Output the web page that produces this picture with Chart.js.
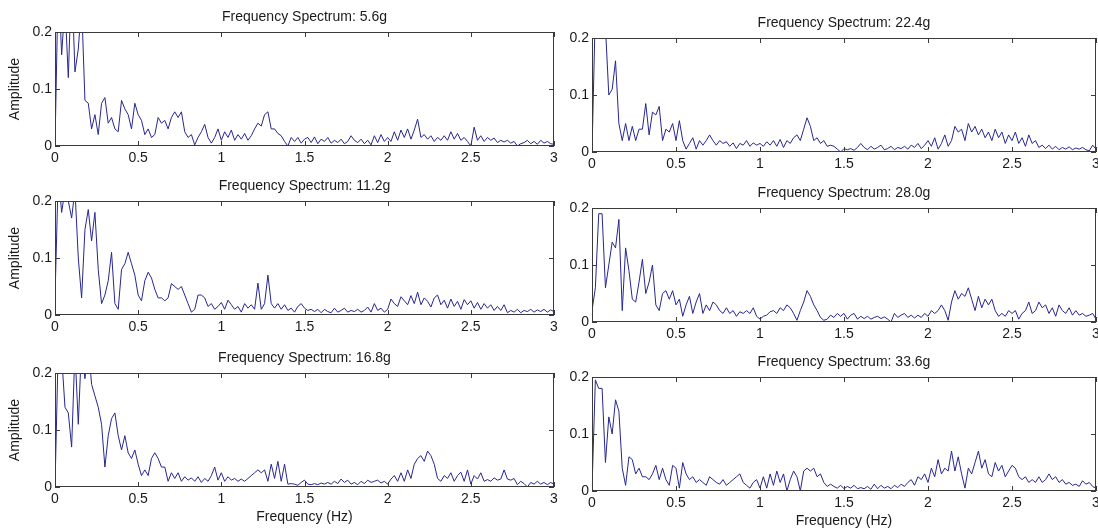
<!DOCTYPE html>
<html>
<head>
<meta charset="utf-8">
<script src="https://cdn.jsdelivr.net/npm/chart.js@4.4.0/dist/chart.umd.min.js"></script>
<style>
  html, body { margin: 0; padding: 0; background: #fff; overflow: hidden; width: 1098px; height: 529px; }
  canvas { position: absolute; }
</style>
</head>
<body>
<canvas id="c0"></canvas>
<canvas id="c1"></canvas>
<canvas id="c2"></canvas>
<canvas id="c3"></canvas>
<canvas id="c4"></canvas>
<canvas id="c5"></canvas>
<script>
// frequency bins (Hz), 0 to 3 in steps of 0.02
const freqs = Array.from({ length: 151 }, (_, i) => +(i * 0.02).toFixed(2));
const xTicks = [0, 0.5, 1, 1.5, 2, 2.5, 3];
const yTicks = [0, 0.1, 0.2];

// amplitudes, one value per bin
const spec5_6 = [
  0, 0.3, 0.16, 0.25, 0.12, 0.3, 0.13, 0.17, 0.25, 0.08,
  0.075, 0.03, 0.055, 0.02, 0.075, 0.085, 0.04, 0.05, 0.03, 0.025,
  0.08, 0.065, 0.055, 0.03, 0.075, 0.055, 0.045, 0.02, 0.03, 0.015,
  0.02, 0.05, 0.04, 0.045, 0.03, 0.05, 0.06, 0.05, 0.06, 0.025,
  0.015, 0.02, 0.002, 0.015, 0.025, 0.038, 0.015, 0.005, 0.015, 0.03,
  0.01, 0.025, 0.015, 0.028, 0.01, 0.02, 0.012, 0.022, 0.01, 0.018,
  0.03, 0.04, 0.035, 0.055, 0.06, 0.03, 0.03, 0.022, 0.018, 0.008,
  0, 0.015, 0.008, 0.015, 0.005, 0.012, 0.015, 0.006, 0.016, 0.004,
  0.012, 0.008, 0.015, 0.005, 0.01, 0.006, 0.012, 0.004, 0.008, 0.018,
  0.01, 0.006, 0.012, 0.004, 0.01, 0.002, 0.018, 0.006, 0.02, 0.008,
  0.015, 0.008, 0.025, 0.01, 0.028, 0.015, 0.03, 0.012, 0.028, 0.047,
  0.015, 0.02, 0.012, 0.018, 0.008, 0.015, 0.01, 0.018, 0.01, 0.025,
  0.012, 0.022, 0.01, 0.015, 0.008, 0, 0.033, 0.01, 0.018, 0.008,
  0.015, 0.01, 0.014, 0.006, 0.01, 0.007, 0.01, 0.005, 0.008, 0,
  0.004, 0.006, 0.01, 0.004, 0.008, 0.003, 0.01, 0.005, 0.008, 0.004,
  0.003
];
const spec11_2 = [
  0.03, 0.25, 0.18, 0.22, 0.2, 0.17, 0.22, 0.1, 0.03, 0.15,
  0.185, 0.13, 0.18, 0.08, 0.02, 0.035, 0.06, 0.11, 0.02, 0.01,
  0.08, 0.09, 0.11, 0.09, 0.07, 0.035, 0.025, 0.06, 0.075, 0.065,
  0.045, 0.03, 0.03, 0.025, 0.03, 0.055, 0.05, 0.045, 0.05, 0.035,
  0.02, 0.005, 0.01, 0.035, 0.035, 0.03, 0.015, 0.02, 0.01, 0.015,
  0.022, 0.01, 0.026, 0.018, 0.01, 0.015, 0.005, 0.02, 0.012, 0.018,
  0.01, 0.056, 0.01, 0.02, 0.07, 0.02, 0.012, 0.02, 0.01, 0.018,
  0.008, 0.012, 0.005, 0.015, 0.02, 0.012, 0.008, 0.01, 0.006, 0.01,
  0.004, 0.01, 0.006, 0.004, 0.012, 0.005, 0.008, 0.012, 0.005, 0.008,
  0.006, 0.01, 0.005, 0.008, 0.014, 0.005, 0.02, 0.008, 0.012, 0.005,
  0.01, 0.028, 0.02, 0.015, 0.032, 0.025, 0.018, 0.034, 0.02, 0.04,
  0.018, 0.03, 0.024, 0.014, 0.03, 0.035, 0.018, 0.026, 0.012, 0.028,
  0.015, 0.024, 0.01, 0.027, 0.018, 0.025, 0.012, 0.022, 0.01, 0.02,
  0.012, 0.018, 0.008, 0.015, 0.008, 0.018, 0.004, 0.008, 0.005, 0.01,
  0.004, 0.008, 0.006, 0.01, 0.005, 0.009, 0.006, 0.01, 0.005, 0.009,
  0.006
];
const spec16_8 = [
  0, 0.25, 0.23, 0.14, 0.13, 0.07, 0.24, 0.11, 0.25, 0.19,
  0.25, 0.18, 0.16, 0.14, 0.11, 0.035, 0.09, 0.12, 0.13, 0.09,
  0.065, 0.09, 0.06, 0.05, 0.065, 0.04, 0.02, 0.03, 0.02, 0.05,
  0.06, 0.05, 0.035, 0.035, 0.01, 0.025, 0.015, 0.025, 0.01, 0.018,
  0.012, 0.016, 0.01, 0.018, 0.008, 0.015, 0.01, 0.02, 0.035, 0.012,
  0.025, 0.01, 0.018, 0.012, 0.015, 0.01, 0.014, 0.01, 0.015, 0.02,
  0.025, 0.03, 0.025, 0.03, 0.01, 0.04, 0.015, 0.045, 0.01, 0.04,
  0.005, 0.006, 0.005, 0.003, 0.008, 0.012, 0.005, 0.004, 0.006, 0.004,
  0.007, 0.005, 0.008, 0.005, 0.01, 0.006, 0.014, 0.008, 0.012, 0.005,
  0.008, 0.004, 0.01, 0.006, 0.012, 0.008, 0.01, 0.012, 0.007, 0.01,
  0.005, 0.014, 0.02, 0.01, 0.025, 0.01, 0.03, 0.015, 0.04, 0.05,
  0.055, 0.045, 0.063, 0.055, 0.04, 0.015, 0.01, 0.02, 0.015, 0.025,
  0.01, 0.02, 0.026, 0.01, 0.03, 0.005, 0.02, 0.014, 0.025, 0.01,
  0.013, 0.01, 0.016, 0.012, 0.014, 0.03, 0.014, 0.012, 0.015, 0.004,
  0.01, 0.006, 0, 0.008, 0.005, 0.01, 0.005, 0.008, 0.004, 0.008,
  0.005
];
const spec22_4 = [
  0, 0.25, 0.24, 0.25, 0.22, 0.1, 0.11, 0.16, 0.05, 0.02,
  0.05, 0.02, 0.045, 0.02, 0.04, 0.04, 0.085, 0.03, 0.07, 0.065,
  0.08, 0.02, 0.04, 0.035, 0.05, 0.02, 0.055, 0.02, 0.005, 0.015,
  0.025, 0.005, 0.02, 0.012, 0.02, 0.03, 0.02, 0.012, 0.02, 0.015,
  0.018, 0.01, 0.016, 0.006, 0.015, 0.012, 0.02, 0.01, 0.016, 0.012,
  0.015, 0.01, 0.018, 0.012, 0.02, 0.01, 0.022, 0.008, 0.02, 0.015,
  0.025, 0.03, 0.02, 0.04, 0.06, 0.045, 0.02, 0.025, 0.015, 0.02,
  0.01, 0.012, 0.01, 0.005, 0, 0.006, 0.004, 0.006, 0.003, 0.008,
  0.015, 0.008, 0.004, 0.01, 0.005, 0.008, 0.012, 0.004, 0.006, 0.01,
  0.004, 0.008, 0.006, 0.01, 0.005, 0.012, 0.008, 0.015, 0.006, 0.012,
  0.02, 0.01, 0.025, 0.005, 0.015, 0.03, 0.01, 0.02, 0.045, 0.035,
  0.04, 0.02, 0.05, 0.035, 0.045, 0.03, 0.04, 0.025, 0.035, 0.02,
  0.04, 0.025, 0.035, 0.015, 0.03, 0.02, 0.035, 0.015, 0.025, 0.01,
  0.03, 0.015, 0.02, 0.008, 0.012, 0.006, 0.012, 0.005, 0.01, 0.004,
  0.008, 0.005, 0.009, 0.004, 0.007, 0.005, 0.008, 0.004, 0.002, 0.012,
  0.005
];
const spec28_0 = [
  0.02, 0.06, 0.19, 0.19, 0.06, 0.1, 0.14, 0.13, 0.18, 0.02,
  0.13, 0.09, 0.04, 0.035, 0.07, 0.11, 0.05, 0.07, 0.1, 0.03,
  0.02, 0.05, 0.055, 0.04, 0.055, 0.03, 0.04, 0.01, 0.03, 0.045,
  0.015, 0.035, 0.05, 0.015, 0.03, 0.02, 0.035, 0.03, 0.02, 0.015,
  0.025, 0.015, 0.02, 0.01, 0.018, 0.015, 0.02, 0.015, 0.025, 0.01,
  0.005, 0.01, 0.012, 0.018, 0.02, 0.015, 0.025, 0.02, 0.03, 0.025,
  0.015, 0.003, 0.02, 0.035, 0.055, 0.045, 0.03, 0.02, 0.008, 0.003,
  0.005, 0.012, 0.008, 0.015, 0.01, 0.015, 0.005, 0.012, 0.015, 0.005,
  0.01, 0.006, 0.01, 0.005, 0.008, 0.01, 0.006, 0.009, 0.005, 0,
  0.015, 0.008, 0.012, 0.015, 0.008, 0.012, 0.007, 0.012, 0.008, 0.015,
  0.01, 0.02, 0.015, 0.02, 0.03, 0.02, 0.003, 0.035, 0.055, 0.04,
  0.05, 0.045, 0.06, 0.04, 0.02, 0.045, 0.025, 0.04, 0.03, 0.04,
  0.02, 0.01, 0.015, 0.01, 0.02, 0.015, 0.02, 0.005, 0.015, 0.02,
  0.035, 0.015, 0.02, 0.035, 0.025, 0.03, 0.015, 0.025, 0.01, 0.03,
  0.02, 0.015, 0.025, 0.012, 0.02, 0.012, 0.015, 0.01, 0.012, 0.015,
  0.005
];
const spec33_6 = [
  0.005, 0.195, 0.18, 0.18, 0.05, 0.13, 0.1, 0.16, 0.14, 0.04,
  0.01, 0.06, 0.055, 0.03, 0.04, 0.025, 0.025, 0.02, 0.03, 0.045,
  0.02, 0.04, 0.02, 0.01, 0.045, 0.04, 0.005, 0.05, 0.03, 0.02,
  0.025, 0.015, 0.02, 0.015, 0.01, 0.025, 0.02, 0.015, 0.012, 0.02,
  0.01, 0.015, 0.02, 0.025, 0.03, 0.015, 0.01, 0.005, 0.015, 0.02,
  0.005, 0.025, 0.005, 0.03, 0.01, 0.035, 0.015, 0.03, 0, 0.02,
  0.035, 0.025, 0, 0.035, 0.04, 0.035, 0.04, 0.025, 0.03, 0.015,
  0.008, 0.012, 0.008, 0.005, 0.01, 0.004, 0.008, 0.005, 0.01, 0.004,
  0.006, 0.004, 0.008, 0.003, 0.012, 0.004, 0.01, 0.005, 0.008, 0.004,
  0.01, 0.006, 0.012, 0.008, 0.015, 0.02, 0.01, 0.025, 0.02, 0.03,
  0.015, 0.04, 0.025, 0.055, 0.03, 0.04, 0.035, 0.07, 0.035, 0.06,
  0.03, 0.005, 0.04, 0.03, 0.05, 0.07, 0.04, 0.055, 0.03, 0.025,
  0.05, 0.035, 0.045, 0.025, 0.035, 0.045, 0.04, 0.025, 0.02, 0.025,
  0.015, 0.02, 0.015, 0.025, 0.015, 0.02, 0.03, 0.02, 0.025, 0.015,
  0.02, 0.012, 0.015, 0.01, 0.012, 0.008, 0.018, 0.012, 0.015, 0.008,
  0.005
];

const FONT = '"Liberation Sans", Arial, Helvetica, sans-serif';
const LINE_COLOR = 'rgb(38, 38, 145)';
const TEXT_COLOR = '#1a1a1a';

// subplot placement: axes box in page pixels
const panels = [
  { id: 'c0', title: 'Frequency Spectrum: 5.6g',  data: spec5_6,  box: [55, 32, 554, 146],   yLabel: true,  xLabel: false },
  { id: 'c1', title: 'Frequency Spectrum: 11.2g', data: spec11_2, box: [55, 201, 554, 315],  yLabel: true,  xLabel: false },
  { id: 'c2', title: 'Frequency Spectrum: 16.8g', data: spec16_8, box: [55, 373, 554, 487],  yLabel: true,  xLabel: true },
  { id: 'c3', title: 'Frequency Spectrum: 22.4g', data: spec22_4, box: [592, 38, 1096, 152], yLabel: false, xLabel: false },
  { id: 'c4', title: 'Frequency Spectrum: 28.0g', data: spec28_0, box: [592, 208, 1096, 322], yLabel: false, xLabel: false },
  { id: 'c5', title: 'Frequency Spectrum: 33.6g', data: spec33_6, box: [592, 377, 1096, 491], yLabel: false, xLabel: true }
];

// MATLAB style box, inward ticks, titles and axis labels
const matlabAxes = {
  id: 'matlabAxes',
  afterDatasetsDraw(chart, args, opts) {
    const { ctx, chartArea: a, scales: { x, y } } = chart;
    ctx.save();
    ctx.strokeStyle = '#3a3a3a';
    ctx.lineWidth = 1;
    ctx.strokeRect(a.left + 0.5, a.top + 0.5, a.right - a.left - 1, a.bottom - a.top - 1);
    ctx.beginPath();
    xTicks.forEach(v => {
      const px = Math.round(x.getPixelForValue(v)) + 0.5;
      ctx.moveTo(px, a.bottom); ctx.lineTo(px, a.bottom - 5);
      ctx.moveTo(px, a.top); ctx.lineTo(px, a.top + 5);
    });
    yTicks.forEach(v => {
      const py = Math.round(y.getPixelForValue(v)) + 0.5;
      ctx.moveTo(a.left, py); ctx.lineTo(a.left + 5, py);
      ctx.moveTo(a.right, py); ctx.lineTo(a.right - 5, py);
    });
    ctx.stroke();

    ctx.fillStyle = TEXT_COLOR;
    ctx.font = '14px ' + FONT;
    ctx.textAlign = 'center';
    ctx.textBaseline = 'middle';
    const cx = (a.left + a.right) / 2;
    ctx.fillText(opts.title, cx, a.top - 15);
    if (opts.xLabel) ctx.fillText('Frequency (Hz)', cx, a.bottom + 30);
    if (opts.yLabel) {
      ctx.translate(a.left - 40, (a.top + a.bottom) / 2);
      ctx.rotate(-Math.PI / 2);
      ctx.fillText('Amplitude', 0, 0);
    }
    ctx.restore();
  }
};

panels.forEach((p, i) => {
  const [left, top, right, bottom] = p.box;
  const padL = i < 3 ? 55 : 40, padT = 30, padR = 12, padB = 42;
  const canvas = document.getElementById(p.id);
  canvas.width = padL + (right - left) + padR;
  canvas.height = padT + (bottom - top) + padB;
  canvas.style.left = (left - padL) + 'px';
  canvas.style.top = (top - padT) + 'px';

  new Chart(canvas.getContext('2d'), {
    type: 'line',
    data: {
      datasets: [{
        data: freqs.map((f, k) => ({ x: f, y: p.data[k] })),
        borderColor: LINE_COLOR,
        borderWidth: 1,
        pointRadius: 0,
        tension: 0,
        fill: false
      }]
    },
    options: {
      responsive: false,
      animation: false,
      events: [],
      layout: { padding: { left: 0, top: padT, right: padR, bottom: 0 } },
      plugins: {
        legend: { display: false },
        tooltip: { enabled: false },
        matlabAxes: { title: p.title, xLabel: p.xLabel, yLabel: p.yLabel }
      },
      scales: {
        x: {
          type: 'linear',
          min: 0,
          max: 3,
          afterFit: s => { s.height = padB; },
          afterBuildTicks: s => { s.ticks = xTicks.map(v => ({ value: v })); },
          grid: { display: false, drawTicks: false },
          border: { display: false },
          ticks: {
            color: TEXT_COLOR, font: { family: FONT, size: 14 }, padding: 4,
            maxRotation: 0, autoSkip: false,
            callback: v => String(v)
          }
        },
        y: {
          min: 0,
          max: 0.2,
          afterFit: s => { s.width = padL; },
          afterBuildTicks: s => { s.ticks = yTicks.map(v => ({ value: v })); },
          grid: { display: false, drawTicks: false },
          border: { display: false },
          ticks: {
            color: TEXT_COLOR, font: { family: FONT, size: 14 }, padding: 3,
            callback: v => String(v)
          }
        }
      }
    },
    plugins: [matlabAxes]
  });
});
</script>
</body>
</html>
